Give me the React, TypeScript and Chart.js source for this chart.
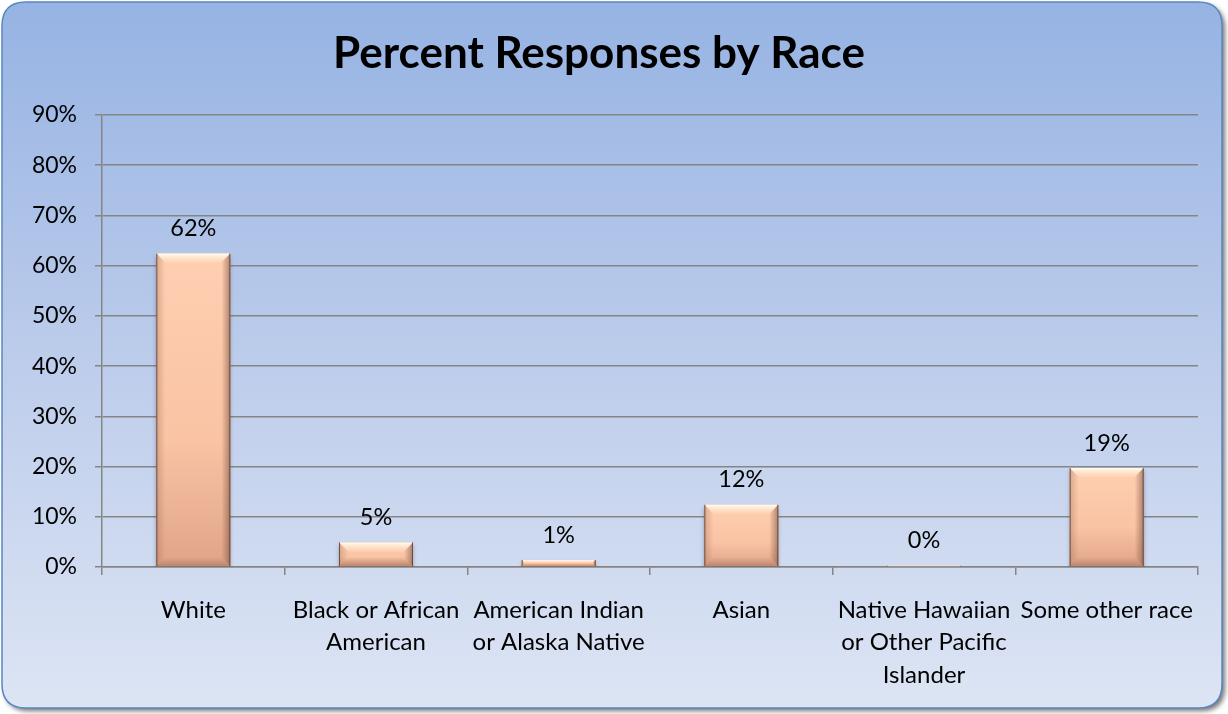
import React, { useEffect, useRef } from "react";
import { Chart, registerables } from "chart.js";

Chart.register(...registerables);

const categories: string[][] = [
  ["White"],
  ["Black or African", "American"],
  ["American Indian", "or Alaska Native"],
  ["Asian"],
  ["Native Hawaiian", "or Other Pacific", "Islander"],
  ["Some other race"],
];
const percentValues: number[] = [62.4, 4.9, 1.4, 12.4, 0.25, 19.7];
const valueLabels: string[] = ["62%", "5%", "1%", "12%", "0%", "19%"];
const titleText = "Percent Responses by Race";
const yMax = 90;
const yStep = 10;

const FONT = "Lato, 'Open Sans', sans-serif";

function roundRectPath(ctx: CanvasRenderingContext2D, x: number, y: number, w: number, h: number, r: number) {
  ctx.beginPath();
  ctx.moveTo(x + r, y);
  ctx.lineTo(x + w - r, y);
  ctx.quadraticCurveTo(x + w, y, x + w, y + r);
  ctx.lineTo(x + w, y + h - r);
  ctx.quadraticCurveTo(x + w, y + h, x + w - r, y + h);
  ctx.lineTo(x + r, y + h);
  ctx.quadraticCurveTo(x, y + h, x, y + h - r);
  ctx.lineTo(x, y + r);
  ctx.quadraticCurveTo(x, y, x + r, y);
  ctx.closePath();
}

const backgroundPlugin = {
  id: "panelBackground",
  beforeDraw(chart: any) {
    const ctx: CanvasRenderingContext2D = chart.ctx;
    const W = chart.width;
    const H = chart.height;
    ctx.save();
    ctx.clearRect(0, 0, W, H);
    ctx.fillStyle = "#ffffff";
    ctx.fillRect(0, 0, W, H);
    const x = 2, y = 2, w = W - 8, h = H - 8, r = 24;
    ctx.save();
    ctx.shadowColor = "rgba(0,0,0,0.55)";
    ctx.shadowBlur = 5;
    ctx.shadowOffsetX = 3;
    ctx.shadowOffsetY = 3;
    roundRectPath(ctx, x, y, w, h, r);
    ctx.fillStyle = "#9bb6e4";
    ctx.fill();
    ctx.restore();
    const g = ctx.createLinearGradient(0, y, 0, y + h);
    g.addColorStop(0, "#96b3e3");
    g.addColorStop(0.5, "#bccceb");
    g.addColorStop(1, "#dde5f4");
    roundRectPath(ctx, x, y, w, h, r);
    ctx.fillStyle = g;
    ctx.fill();
    ctx.lineWidth = 1.5;
    ctx.strokeStyle = "#5a86c2";
    ctx.stroke();
    ctx.restore();
  },
};

const barStylePlugin = {
  id: "barStyle",
  beforeDatasetDraw(chart: any) {
    const ctx: CanvasRenderingContext2D = chart.ctx;
    ctx.save();
    ctx.shadowColor = "rgba(40,40,60,0.35)";
    ctx.shadowBlur = 4;
    ctx.shadowOffsetY = 3;
  },
  afterDatasetDraw(chart: any) {
    const ctx: CanvasRenderingContext2D = chart.ctx;
    ctx.restore();
    const meta = chart.getDatasetMeta(0);
    meta.data.forEach((el: any) => {
      const { x, y, base, width } = el.getProps(["x", "y", "base", "width"], true);
      const left = x - width / 2;
      const right = x + width / 2;
      const top = Math.min(y, base);
      const bottom = Math.max(y, base);
      const hgt = bottom - top;
      if (hgt < 0.5) return;
      const b = Math.min(9, hgt / 2);
      ctx.save();
      const gt = ctx.createLinearGradient(0, top, 0, top + b);
      gt.addColorStop(0, "rgba(255,252,240,1)");
      gt.addColorStop(1, "rgba(255,225,195,0.3)");
      ctx.beginPath();
      ctx.moveTo(left, top);
      ctx.lineTo(right, top);
      ctx.lineTo(right - b, top + b);
      ctx.lineTo(left + b, top + b);
      ctx.closePath();
      ctx.fillStyle = gt;
      ctx.fill();
      const gl = ctx.createLinearGradient(left, 0, left + b, 0);
      gl.addColorStop(0, "rgba(150,100,80,0.35)");
      gl.addColorStop(1, "rgba(150,100,80,0)");
      ctx.beginPath();
      ctx.moveTo(left, top);
      ctx.lineTo(left + b, top + b);
      ctx.lineTo(left + b, bottom - b);
      ctx.lineTo(left, bottom);
      ctx.closePath();
      ctx.fillStyle = gl;
      ctx.fill();
      const gr = ctx.createLinearGradient(right, 0, right - b, 0);
      gr.addColorStop(0, "rgba(110,70,55,0.55)");
      gr.addColorStop(1, "rgba(110,70,55,0)");
      ctx.beginPath();
      ctx.moveTo(right, top);
      ctx.lineTo(right - b, top + b);
      ctx.lineTo(right - b, bottom - b);
      ctx.lineTo(right, bottom);
      ctx.closePath();
      ctx.fillStyle = gr;
      ctx.fill();
      const gb = ctx.createLinearGradient(0, bottom, 0, bottom - b);
      gb.addColorStop(0, "rgba(130,85,65,0.4)");
      gb.addColorStop(1, "rgba(130,85,65,0)");
      ctx.beginPath();
      ctx.moveTo(left, bottom);
      ctx.lineTo(right, bottom);
      ctx.lineTo(right - b, bottom - b);
      ctx.lineTo(left + b, bottom - b);
      ctx.closePath();
      ctx.fillStyle = gb;
      ctx.fill();
      ctx.lineWidth = 1;
      ctx.strokeStyle = "rgba(95,65,50,0.85)";
      ctx.beginPath();
      ctx.moveTo(right - 0.5, top);
      ctx.lineTo(right - 0.5, bottom);
      ctx.moveTo(left + 0.5, top);
      ctx.lineTo(left + 0.5, bottom);
      ctx.stroke();
      ctx.restore();
    });
  },
};

const dataLabelPlugin = {
  id: "valueLabels",
  afterDatasetsDraw(chart: any) {
    const ctx: CanvasRenderingContext2D = chart.ctx;
    const meta = chart.getDatasetMeta(0);
    ctx.save();
    ctx.font = `23.5px ${FONT}`;
    ctx.fillStyle = "#000000";
    ctx.textAlign = "center";
    ctx.textBaseline = "middle";
    meta.data.forEach((el: any, i: number) => {
      ctx.fillText(valueLabels[i], el.x, el.y - 25);
    });
    ctx.restore();
  },
};

export default function App() {
  const canvasRef = useRef<HTMLCanvasElement | null>(null);

  useEffect(() => {
    document.body.style.margin = "0";
    const canvas = canvasRef.current;
    if (!canvas) return;
    const chart = new Chart(canvas, {
      type: "bar",
      data: {
        labels: categories,
        datasets: [
          {
            data: percentValues,
            backgroundColor: (context: any) => {
              const c = context.chart;
              const ys = c.scales && c.scales.y;
              if (!ys || context.type !== "data") return "#fdc8a8";
              const v = context.parsed ? context.parsed.y : 0;
              const yTop = ys.getPixelForValue(v);
              const yBot = ys.getPixelForValue(0);
              if (!isFinite(yTop) || !isFinite(yBot) || yBot - yTop < 1) return "#e8b197";
              const g = c.ctx.createLinearGradient(0, yTop, 0, yBot);
              g.addColorStop(0, "#ffcfb1");
              g.addColorStop(0.6, "#f9c3a4");
              g.addColorStop(1, "#e0a489");
              return g;
            },
            borderWidth: 0,
            categoryPercentage: 1,
            barPercentage: 0.405,
          },
        ],
      },
      options: {
        responsive: false,
        animation: false,
        layout: { padding: { left: 0, right: 30, top: 0, bottom: 0 } },
        plugins: {
          legend: { display: false },
          tooltip: { enabled: false },
          title: {
            display: true,
            text: titleText,
            color: "#000000",
            font: { family: FONT, size: 44, weight: "bold", lineHeight: 1.2 },
            padding: { top: 27.6, bottom: 34.6 },
          },
        },
        scales: {
          x: {
            afterFit: (scale: any) => {
              scale.height = 714 - 567;
            },
            grid: {
              display: true,
              drawOnChartArea: false,
              drawTicks: true,
              offset: true,
              tickLength: 8,
              color: "#858585",
              lineWidth: 1.5,
            },
            border: { display: true, color: "#858585", width: 1.5 },
            ticks: {
              color: "#000000",
              font: { family: FONT, size: 24, lineHeight: 1.35 },
              padding: 19,
              maxRotation: 0,
              autoSkip: false,
            },
          },
          y: {
            min: 0,
            max: yMax,
            afterFit: (scale: any) => {
              scale.width = 102;
            },
            grid: {
              display: true,
              color: "#858585",
              lineWidth: 1.5,
              tickLength: 7,
            },
            border: { display: true, color: "#858585", width: 1.5 },
            ticks: {
              stepSize: yStep,
              color: "#000000",
              padding: 18,
              font: { family: FONT, size: 23 },
              callback: (v: any) => `${v}%`,
            },
          },
        },
      },
      plugins: [backgroundPlugin, barStylePlugin, dataLabelPlugin],
    });
    return () => chart.destroy();
  }, []);

  return (
    <div style={{ position: "absolute", left: 0, top: 0, width: 1228, height: 714 }}>
      <canvas ref={canvasRef} width={1228} height={714} />
    </div>
  );
}
